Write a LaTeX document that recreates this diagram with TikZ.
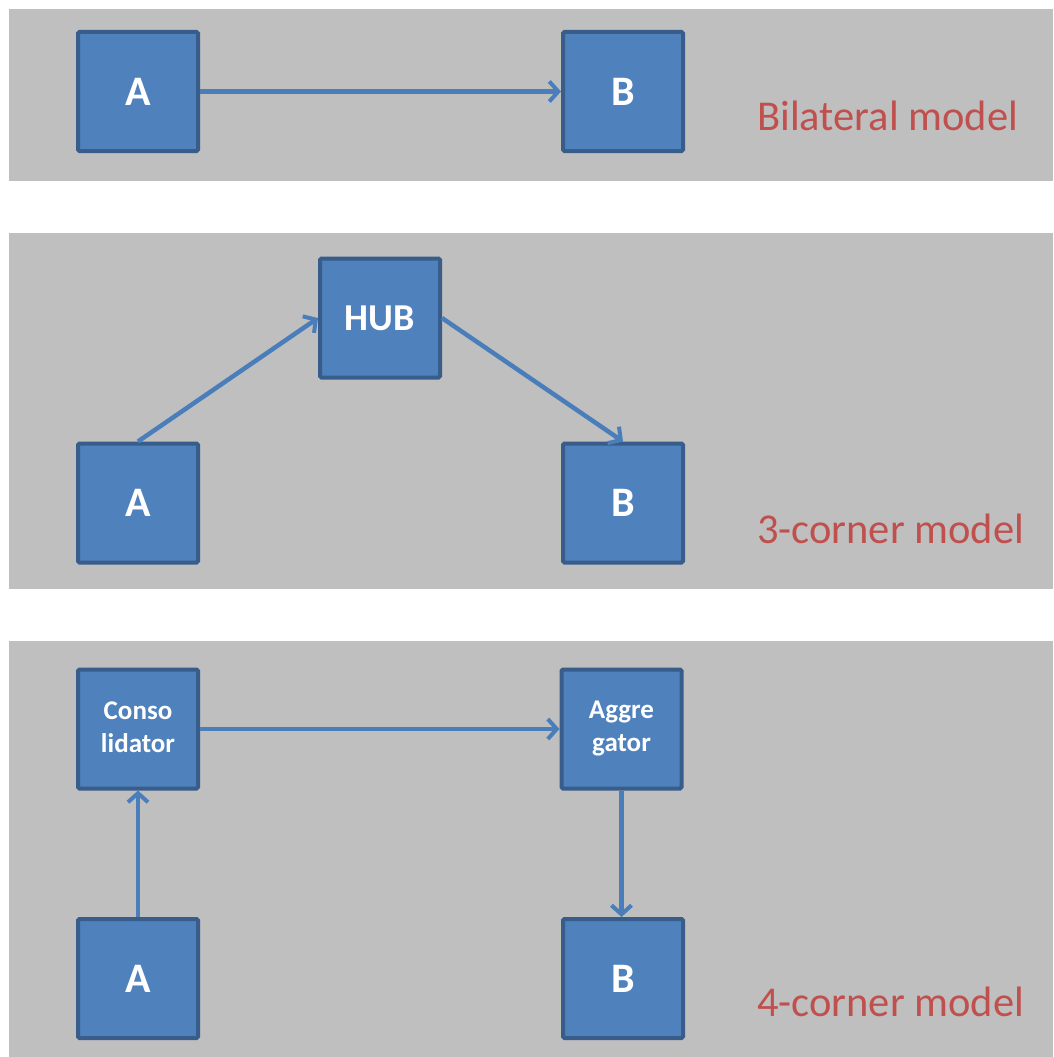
\documentclass[tikz,border=0pt]{standalone}
\usepackage{fontspec}
\setmainfont{Carlito}
\usetikzlibrary{arrows.meta}
\definecolor{panelgray}{RGB}{191,191,191}
\definecolor{boxfill}{RGB}{79,129,189}
\definecolor{boxline}{RGB}{56,93,138}
\definecolor{flow}{RGB}{74,126,187}
\definecolor{caption}{RGB}{192,80,77}
\tikzset{
  panel/.style={fill=panelgray, draw=none},
  party/.style={draw=boxline, fill=boxfill, line width=4pt, rounded corners=1.5pt,
    minimum width=120pt, minimum height=119pt, inner sep=0pt, text=white,
    font=\bfseries\fontsize{42}{46}\selectfont, align=center},
  smallparty/.style={party, font=\bfseries\fontsize{27}{33}\selectfont},
  hubparty/.style={party, font=\bfseries\fontsize{38}{42}\selectfont},
  flowarrow/.style={draw=flow, line width=4.5pt, -{Straight Barb[length=9pt, width=20pt, line width=4pt]}},
  modelname/.style={anchor=base west, text=caption, inner sep=0pt, font=\fontsize{42.5}{46}\selectfont}
}
\begin{document}
\begin{tikzpicture}[x=1pt, y=-1pt]
\useasboundingbox (0,0) rectangle (1053,1057);
% background panels
\fill[panelgray] (9,9) rectangle (1053,181);
\fill[panelgray] (9,233) rectangle (1053,589);
\fill[panelgray] (9,641) rectangle (1053,1057);

% bilateral model
\node[party] (a1) at (138,91.5) {A};
\node[party] (b1) at (623,91.5) {B};
\draw[flowarrow] (a1.east) -- (b1.west);
\node[modelname] (l1) at (757,130) {Bilateral model};

% 3-corner model
\node[hubparty] (hub) at (380,318) {HUB};
\node[party] (a2) at (138,503) {A};
\node[party] (b2) at (623,503) {B};
\draw[flowarrow] (a2.north) -- (hub.west);
\draw[flowarrow] (hub.east) -- (b2.north);
\node[modelname] (l2) at (757,543) {3-corner model};

% 4-corner model (descender phantom keeps both two-line labels on the same baselines)
\node[smallparty] (cons) at (138,729) {Conso\\lidator\vphantom{g}};
\node[smallparty] (aggr) at (621.5,729) {Aggre\\gator};
\node[party] (a3) at (138,978.5) {A};
\node[party] (b3) at (623,978.5) {B};
\draw[flowarrow] (a3.north) -- (cons.south);
\draw[flowarrow] (cons.east) -- (aggr.west);
\draw[flowarrow] (aggr.south) -- (aggr.south |- b3.north);
\node[modelname] (l3) at (757,1016) {4-corner model};
\end{tikzpicture}
\end{document}
